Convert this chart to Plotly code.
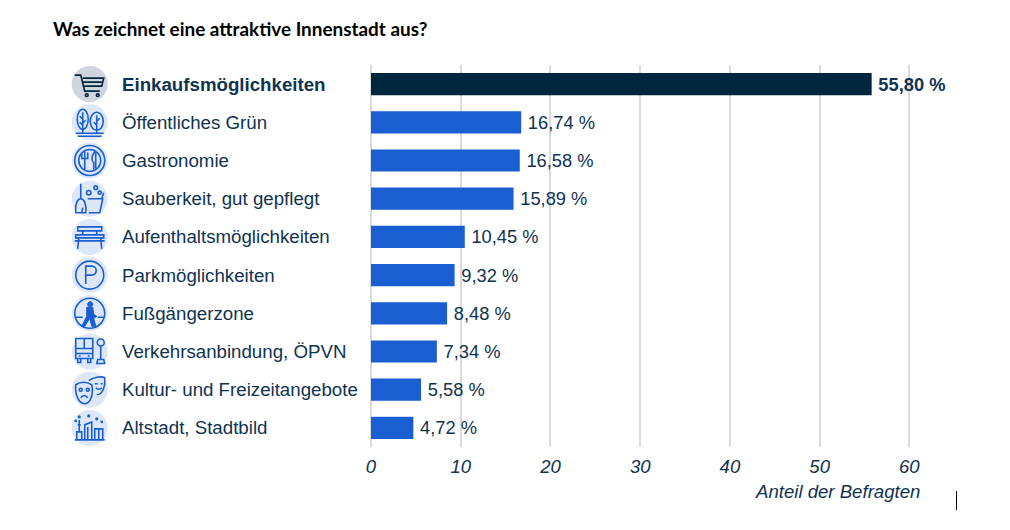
"""Was zeichnet eine attraktive Innenstadt aus? - horizontal bar chart with icons."""

import plotly.graph_objects as go

categories = [
    "Einkaufsmöglichkeiten",
    "Öffentliches Grün",
    "Gastronomie",
    "Sauberkeit, gut gepflegt",
    "Aufenthaltsmöglichkeiten",
    "Parkmöglichkeiten",
    "Fußgängerzone",
    "Verkehrsanbindung, ÖPVN",
    "Kultur- und Freizeitangebote",
    "Altstadt, Stadtbild",
]
shares = [55.80, 16.74, 16.58, 15.89, 10.45, 9.32, 8.48, 7.34, 5.58, 4.72]
x_ticks = [0, 10, 20, 30, 40, 50, 60]

DARK = "#00263e"
BLUE = "#1a5fd1"
TEXT = "#0f3350"
GRID = "#dadada"

# the page body has an 8px margin, everything below is in figure pixels
PAGE = 8
WIDTH, HEIGHT = 1010 - PAGE, 530 - PAGE
PLOT_L, PLOT_R, PLOT_T, PLOT_B = 370.5 - PAGE, 960 - PAGE, 65 - PAGE, 447 - PAGE
PX_PER_UNIT = 8.98
FONT = "Liberation Sans"
LABEL_SIZE = 18.7


def ell(cx, cy, rx, ry=None):
    ry = rx if ry is None else ry
    k = 0.5523
    return (
        f"M{cx - rx},{cy} "
        f"C{cx - rx},{cy + k * ry} {cx - k * rx},{cy + ry} {cx},{cy + ry} "
        f"C{cx + k * rx},{cy + ry} {cx + rx},{cy + k * ry} {cx + rx},{cy} "
        f"C{cx + rx},{cy - k * ry} {cx + k * rx},{cy - ry} {cx},{cy - ry} "
        f"C{cx - k * rx},{cy - ry} {cx - rx},{cy - k * ry} {cx - rx},{cy} Z "
    )


icon_paths = [
    # cart
    "M-15,9 L-9,9 L-5,-7 L10,-7 M-7,6 L14,6 L12,-2 L-5.5,-2 M-7,2 L12,2 "
    + ell(-3, -11, 1.4) + ell(8, -11, 1.4),
    # trees
    ell(-7, 3, 5.5, 10) + ell(7, 1, 6.5, 9) + "M-7,10 L-7,-11 M7,7 L7,-11 M-7,3 L-10,6 M-7,-1 L-4,2 "
    "M-7,-3 L-10,0 M7,1 L10,4 M7,-3 L4,0 M-14,-11 L14,-11 M-12,-14 L12,-14",
    # plate
    ell(0, 0, 15) + ell(0, 0, 11) + "M-5,9 L-5,-9 M-8,8 L-8,2 L-2,2 L-2,8 M5,9 C1,4 2,-1 4,-2 L4,-9 M6,8 L6,-8",
    # broom and bucket
    "M-9,15 L-9,0 M-14,-14 C-15,-5 -12,0 -9,0 C-6,0 -3,-5 -4,-14 Z M-1,-14 L10,-14 L13,0 L-2,0 M12,0 L14,6 M-7,-9 L-8,-14 "
    + ell(-1, 6, 2.2) + ell(6, 11, 1.8) + ell(10, 6, 1.6),
    # bench
    "M-12,10 L12,10 L12,6 L-12,6 Z M-14,-1 L14,-1 L14,2 L-14,2 Z M-11,-1 L-12,-12 M11,-1 L12,-12 "
    "M-7,6 L-7,2 M7,6 L7,2 M-15,-4 L15,-4",
    # parking
    ell(0, 0, 14) + "M-4,-9 L-4,9 L2,9 C8,9 8,0 2,0 L-4,0",
    # pedestrian ring, the figure itself is filled
    ell(0, 0, 15) + "M-15,-4 L-7,-4 M8,-4 L15,-4",
    # bus and stop
    "M-14,13 L3,13 L3,-7 L-14,-7 Z M-14,3 L3,3 M-5.5,13 L-5.5,3 M-14,-2 L3,-2 M-12,-7 L-12,-11 L-9,-11 L-9,-7 "
    "M-2,-7 L-2,-11 L1,-11 L1,-7 M-11,-4.5 L-9,-4.5 M-2,-4.5 L0,-4.5 "
    + ell(11, 9, 3.5) + "M11,5 L11,-8 M8,-8 L14,-8 L15,-12 L7,-12 Z",
    # masks
    "M-1,9 C3,12 11,14 15,12 C16,4 13,-5 7,-5 M-14,5 C-9,8 -3,8 2,5 C4,-4 1,-14 -5,-14 C-11,-14 -15,-5 -14,5 Z "
    + ell(-9, 0, 1.5) + ell(-2, 0, 1.5) + "M-9,-8 C-7,-5 -4,-5 -2,-8 M5,6 L8,6 M11,6 L13,6 M6,2 C8,0 10,0 12,2",
    # skyline
    "M-15,-12 L15,-12 M-13,-12 L-13,-4 L-8,-4 L-8,-12 M-10.5,-4 L-10.5,8 M-12,3 L-9,3 "
    "M-5,-12 L-5,3 L2,6 L2,-12 M-2,-12 L-2,1 M5,-12 L5,-1 L13,-1 L13,-12 M9,-12 L9,-1 "
    + ell(-10.5, 11, 0.8) + ell(-1, 12, 0.8) + ell(7, 9, 0.8) + ell(-14, 7, 0.6) + ell(12, 6, 0.6),
]
pedestrian = ell(0.5, 9, 2.6) + (
    "M-3,6 L3,6 L4,-1 L7,-3 L4,-5 L6,-13 L2,-13 L0,-5 L-5,-13 L-8,-13 L-3,-3 Z"
)

bar_colors = [DARK] + [BLUE] * (len(categories) - 1)
# thin space keeps the label a little further from the bar end
value_labels = ["\u2009" + f"{v:.2f} %".replace(".", ",") for v in shares]

fig = go.Figure()
fig.add_trace(go.Bar(
    x=shares,
    y=categories,
    orientation="h",
    width=0.58,
    marker=dict(color=bar_colors, line=dict(width=0)),
    text=value_labels,
    textposition="outside",
    cliponaxis=False,
    textfont=dict(
        family=FONT,
        size=18.3,
        color=TEXT,
        weight=["bold"] + ["normal"] * (len(categories) - 1),
    ),
    hoverinfo="skip",
))

plot_w = PLOT_R - PLOT_L
plot_h = PLOT_B - PLOT_T
icon_x = (89 - PAGE - PLOT_L) / plot_w
label_x = (121.6 - PAGE - 2 - PLOT_L) / plot_w

shapes = []
annotations = []
for i, cat in enumerate(categories):
    stroke = DARK if i == 0 else BLUE
    disc = "#cfd4df" if i == 0 else "#dde7f8"
    base = dict(
        type="path", xref="paper", yref="y", xsizemode="pixel", ysizemode="pixel",
        xanchor=icon_x, yanchor=cat,
    )
    shapes.append(dict(base, path=ell(0, 0, 18), fillcolor=disc, line=dict(width=0), layer="below"))
    shapes.append(dict(base, path=icon_paths[i], line=dict(color=stroke, width=1.6)))
    if cat == "Fußgängerzone":
        shapes.append(dict(base, path=pedestrian, fillcolor=stroke, line=dict(color=stroke, width=1)))
    annotations.append(dict(
        xref="paper", yref="y", x=label_x, y=cat, text=cat, showarrow=False,
        xanchor="left", yanchor="middle",
        font=dict(family=FONT, size=LABEL_SIZE, color=TEXT, weight="bold" if i == 0 else "normal"),
    ))

annotations.append(dict(
    xref="paper", yref="paper", x=(52.6 - PAGE - 2 - PLOT_L) / plot_w,
    y=(PLOT_B - (28.5 - PAGE)) / plot_h,
    text="<b>Was zeichnet eine attraktive Innenstadt aus?</b>", showarrow=False,
    xanchor="left", yanchor="middle",
    font=dict(family="Lato", size=18.9, color="#000000"),
))
annotations.append(dict(
    xref="paper", yref="paper", x=(922 - PAGE - PLOT_L) / plot_w,
    y=(PLOT_B - (491 - PAGE)) / plot_h,
    text="<i>Anteil der Befragten</i>", showarrow=False,
    xanchor="right", yanchor="middle",
    font=dict(family=FONT, size=18.6, color=TEXT),
))

# stray text cursor from the original screenshot
cursor_x = (956.5 - PAGE - PLOT_L) / plot_w
shapes.append(dict(
    type="line", xref="paper", yref="paper",
    x0=cursor_x, x1=cursor_x,
    y0=(PLOT_B - (491 - PAGE)) / plot_h, y1=(PLOT_B - (510 - PAGE)) / plot_h,
    line=dict(color="#000000", width=1),
))

fig.update_layout(
    width=WIDTH,
    height=HEIGHT,
    margin=dict(l=PLOT_L, r=WIDTH - PLOT_R, t=PLOT_T, b=HEIGHT - PLOT_B, pad=0),
    paper_bgcolor="white",
    plot_bgcolor="white",
    showlegend=False,
    shapes=shapes,
    annotations=annotations,
    xaxis=dict(
        range=[0, plot_w / PX_PER_UNIT],
        tickvals=x_ticks,
        showgrid=True,
        gridcolor=GRID,
        gridwidth=1.5,
        zeroline=True,
        zerolinecolor=GRID,
        zerolinewidth=1.5,
        showline=False,
        ticks="",
        ticklabelstandoff=6,
        tickfont=dict(family=FONT, size=18.5, color=TEXT, style="italic"),
    ),
    yaxis=dict(
        autorange="reversed",
        categoryorder="array",
        categoryarray=categories,
        showticklabels=False,
        showgrid=False,
        zeroline=False,
        ticks="",
    ),
)

fig.write_html("out.html")
